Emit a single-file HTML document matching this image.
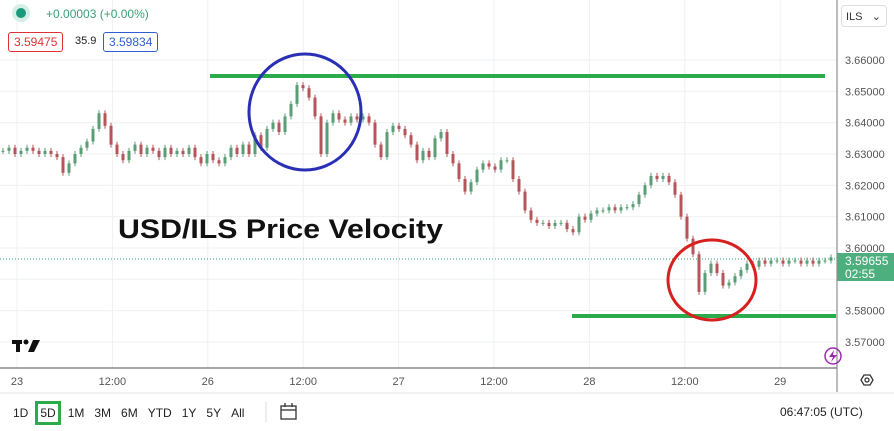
<!DOCTYPE html>
<html><head><meta charset="utf-8"><style>
body{margin:0;width:894px;height:431px;overflow:hidden;background:#fff;font-family:"Liberation Sans",sans-serif;}
.abs{position:absolute}
</style></head><body>
<div class="abs" style="left:0;top:0;width:894px;height:431px">
<svg width="894" height="431" style="position:absolute;left:0;top:0" id="svg">
 <g id="grid"></g>
 <g id="candles"></g>
 <line x1="0" y1="259" x2="836" y2="259" stroke="#2e9e6b" stroke-dasharray="1,2"/>
 <line x1="210" y1="76" x2="825" y2="76" stroke="#2bab4a" stroke-width="4"/>
 <line x1="572" y1="316" x2="836" y2="316" stroke="#2bab4a" stroke-width="4"/>
 <ellipse cx="305" cy="112" rx="56" ry="58" fill="none" stroke="#2a2fb5" stroke-width="3"/>
 <ellipse cx="712" cy="280" rx="44" ry="40" fill="none" stroke="#d82020" stroke-width="3"/>
 <text x="118" y="238" font-size="27" font-weight="bold" fill="#111" textLength="325" lengthAdjust="spacingAndGlyphs" font-family="Liberation Sans, sans-serif">USD/ILS Price Velocity</text>
 <line x1="837" y1="0" x2="837" y2="392" stroke="#777"/>
 <line x1="0" y1="368" x2="837" y2="368" stroke="#888" stroke-width="1.5"/>
 <line x1="0" y1="393" x2="894" y2="393" stroke="#e6e6e6"/>
 <g id="yticks"></g>
 <g id="xticks"></g>
 <rect x="837" y="253" width="57" height="28" fill="#4caf7d"/>
 <text x="845" y="265" font-size="12" fill="#fff">3.59655</text>
 <text x="845" y="278" font-size="12" fill="#fff">02:55</text>
 <g><rect x="12" y="340" width="10" height="4" fill="#111"/><rect x="16" y="340" width="4" height="12" fill="#111"/><circle cx="26" cy="342" r="2.5" fill="#111"/><polygon points="33,340 40,340 34,352 28,352" fill="#111"/></g>
 <circle cx="833" cy="356" r="8" fill="none" stroke="#9c27b0" stroke-width="1.5"/>
 <polygon points="834,350 829,357 833,357 831,362 837,355 833,355" fill="#9c27b0"/>
 <g><polygon points="861,380 864,375 870,375 873,380 870,385 864,385" fill="none" stroke="#333" stroke-width="1.3"/><circle cx="867" cy="380" r="2" fill="none" stroke="#333" stroke-width="1.3"/></g>
 <g stroke="#333" fill="none" stroke-width="1.3"><rect x="281" y="406" width="15" height="13"/><line x1="281" y1="410" x2="296" y2="410"/><line x1="285" y1="403" x2="285" y2="407"/><line x1="292" y1="403" x2="292" y2="407"/></g>
 <line x1="266" y1="402" x2="266" y2="422" stroke="#ddd"/>
</svg>
<div class="abs" style="top:8px;left:16px;width:10px;height:10px;border-radius:50%;background:#1a9a7a;box-shadow:0 0 0 4px #d5efe7"></div>
<div class="abs" style="left:46px;top:7px;font-size:12px;color:#3aa176">+0.00003 (+0.00%)</div>
<div class="abs" style="left:8px;top:32px;font-size:12px;color:#d33;border:1px solid #d33;border-radius:3px;padding:2px 5px;background:#fff">3.59475</div>
<div class="abs" style="left:75px;top:35px;font-size:11px;color:#222">35.9</div>
<div class="abs" style="left:103px;top:32px;font-size:12px;color:#2f5fd0;border:1px solid #2f5fd0;border-radius:3px;padding:2px 5px;background:#fff">3.59834</div>
<div class="abs" style="left:841px;top:5px;width:46px;height:22px;border:1px solid #ddd;border-radius:4px;font-size:11px;color:#333;line-height:22px;padding-left:4px;box-sizing:border-box">ILS <span style="float:right;margin-right:5px">⌄</span></div>
<div class="abs" style="left:0;top:400px;height:26px;font-size:12px;color:#222;display:flex;align-items:center">
 <span style="margin-left:13px">1D</span>
 <span style="margin-left:7px;border:3px solid #2bab4a;padding:2px 2px">5D</span>
 <span style="margin-left:7px">1M</span>
 <span style="margin-left:10px">3M</span>
 <span style="margin-left:10px">6M</span>
 <span style="margin-left:10px">YTD</span>
 <span style="margin-left:10px">1Y</span>
 <span style="margin-left:10px">5Y</span>
 <span style="margin-left:10px">All</span>
</div>
<div class="abs" style="left:780px;top:405px;font-size:12px;color:#222">06:47:05 (UTC)</div>
</div>
<script>
const closes=[3.631,3.632,3.630,3.631,3.632,3.631,3.630,3.631,3.630,3.629,
3.624,3.627,3.630,3.632,3.634,3.638,3.643,3.639,3.633,3.630,
3.628,3.631,3.633,3.630,3.632,3.631,3.629,3.632,3.630,3.631,
3.630,3.632,3.629,3.627,3.630,3.628,3.627,3.629,3.632,3.630,
3.633,3.630,3.636,3.632,3.638,3.640,3.637,3.642,3.646,3.652,
3.651,3.648,3.642,3.630,3.640,3.643,3.641,3.640,3.642,3.641,
3.642,3.640,3.633,3.629,3.637,3.639,3.638,3.636,3.633,3.628,
3.631,3.629,3.635,3.637,3.630,3.627,3.622,3.618,3.621,3.625,
3.627,3.626,3.625,3.628,3.628,3.622,3.618,3.612,3.609,3.608,
3.608,3.607,3.608,3.608,3.606,3.605,3.610,3.609,3.611,3.612,
3.612,3.613,3.612,3.613,3.613,3.614,3.617,3.620,3.623,3.622,
3.623,3.621,3.617,3.610,3.603,3.598,3.586,3.592,3.595,3.592,
3.588,3.589,3.591,3.593,3.595,3.594,3.596,3.595,3.596,3.596,
3.595,3.596,3.596,3.595,3.596,3.595,3.596,3.596,3.597];
const priceTicks=[3.66,3.65,3.64,3.63,3.62,3.61,3.60,3.59,3.58,3.57];
const timeLabels=["23","12:00","26","12:00","27","12:00","28","12:00","29"];
const NS="http://www.w3.org/2000/svg";
function yS(p){return 60+(3.66-p)*3133;}
function xC(i){return 3+i*6;}
function xT(i){return 17+i*95.4;}
function mk(t,a){const e=document.createElementNS(NS,t);for(const k in a)e.setAttribute(k,a[k]);return e;}
const grid=document.getElementById('grid'),yt=document.getElementById('yticks'),xt=document.getElementById('xticks'),cg=document.getElementById('candles');
priceTicks.forEach(p=>{const y=yS(p);
 const l=mk('line',{x1:0,x2:837,y1:y,y2:y,stroke:'#eef0f3'});
 
 
 grid.appendChild(l);
 if(p!==3.59){const t=mk('text',{x:845,y:y+4,'font-size':11,fill:'#555'});t.textContent=p.toFixed(5);
 
 
 yt.appendChild(t);}
});
timeLabels.forEach((s,i)=>{const x=xT(i);
 const l=mk('line',{x1:x,x2:x,y1:0,y2:368,stroke:'#eef0f3'});
 
 
 grid.appendChild(l);
 const t=mk('text',{x:x,y:385,'font-size':11,fill:'#555','text-anchor':'middle'});t.textContent=s;
 
 
 xt.appendChild(t);
});
closes.forEach((c,i)=>{const o=i?closes[i-1]:c;const x=xC(i);
 const up=c>=o,col=up?'#5a9e75':'#b5555a';
 const y1=yS(Math.max(o,c)),y2=yS(Math.min(o,c));
 const g=mk('g',{});
 
 
 g.appendChild(mk('line',{x1:x,x2:x,y1:y1-3,y2:y2+3,stroke:col,'stroke-width':1}));
 g.appendChild(mk('rect',{x:x-1.5,y:y1,width:3,height:Math.max(1,y2-y1),fill:col}));
 cg.appendChild(g);
});
</script>
</body></html>
